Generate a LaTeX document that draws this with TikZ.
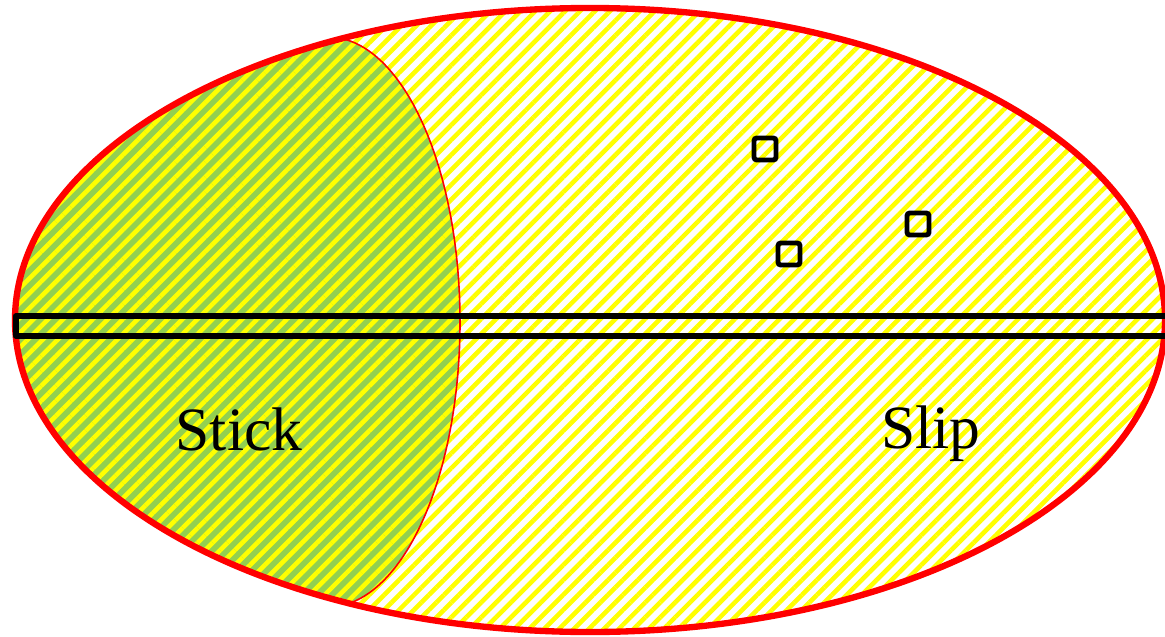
\documentclass[tikz,border=0pt]{standalone}
\usepackage{fontspec}
\setmainfont{Liberation Serif}
\usetikzlibrary{patterns.meta}
\definecolor{stickgreen}{RGB}{146,208,80}

\begin{document}
\begin{tikzpicture}[
  x=0.01cm, y=0.01cm,
  hatch/.style={pattern={Lines[angle=45,distance=3pt,line width=1.3pt]}, pattern color=yellow},
  rim/.style={draw=red, line width=1.8pt},
  gauge/.style={draw, line width=1.4pt, rounded corners=0.8pt, minimum size=0.22cm, inner sep=0pt},
  zone/.style={font=\fontsize{17.5}{21}\selectfont, anchor=base},
]
\useasboundingbox (0,0) rectangle (1165,636);

% stick zone, then hatching over the whole contact area
\begin{scope}
  \clip (590,316) ellipse [x radius=575, y radius=312];
  \fill[stickgreen] (328,29) arc[start angle=-90, end angle=90, x radius=132, y radius=285]
    -- (0,599) -- (0,29) -- cycle;
  \path[hatch] (590,316) ellipse [x radius=575, y radius=312];
  \draw[red, line width=0.45pt] (328,29) arc[start angle=-90, end angle=90, x radius=132, y radius=285];
\end{scope}

% contact ellipse
\draw[rim] (590,316) ellipse [x radius=575, y radius=312];

% strip
\draw[line width=1.7pt, line join=round] (15.7,300.3) rectangle (1185,319.7);

% gauges
\node[gauge] (g1) at (765,487) {};
\node[gauge] (g2) at (789,382) {};
\node[gauge] (g3) at (918,412) {};

% labels
\node[zone] (stick) at (239,186) {Stick};
\node[zone] (slip)  at (931,188) {Slip};

\end{tikzpicture}
\end{document}
